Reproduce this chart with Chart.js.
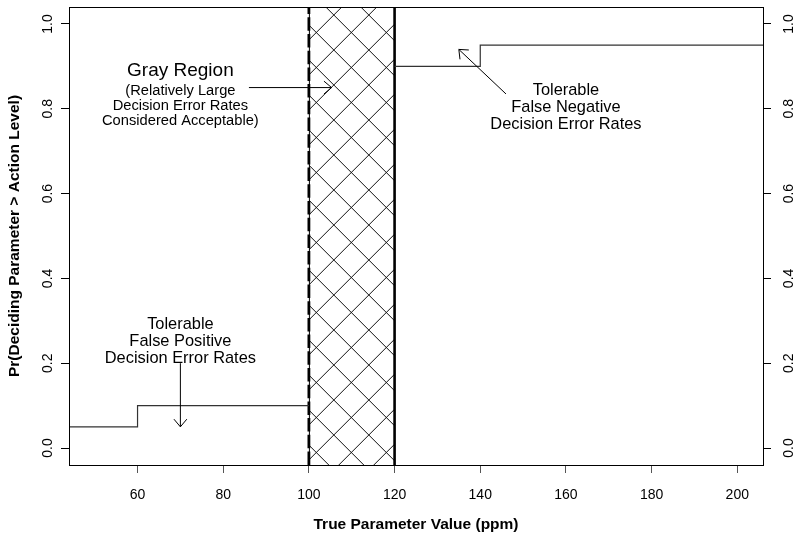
<!DOCTYPE html>
<html><head><meta charset="utf-8">
<script src="https://cdn.jsdelivr.net/npm/chart.js@4.4.1/dist/chart.umd.min.js"></script>
<style>html,body{margin:0;padding:0;background:#fff}#wrap{width:800px;height:538px}</style>
</head><body><div id="wrap"><canvas id="c" width="800" height="538"></canvas></div>
<script>
// ---- data ----
const xTicks = [60, 80, 100, 120, 140, 160, 180, 200];
const yTicks = [0.0, 0.2, 0.4, 0.6, 0.8, 1.0];
const xRange = [44, 206];
const yRange = [-0.04, 1.04];
const fpX = [44, 60, 100];          // tolerable false positive step
const fpY = [0.05, 0.10, 0.10];
const fnX = [120, 140, 206];        // tolerable false negative step
const fnY = [0.90, 0.95, 0.95];
const actionLevel = 100;
const grayUpper = 120;
const xTitle = 'True Parameter Value (ppm)';
const yTitle = 'Pr(Deciding Parameter > Action Level)';
const noteGray = ['Gray Region'];
const noteGraySub = ['(Relatively Large', 'Decision Error Rates', 'Considered Acceptable)'];
const noteFP = ['Tolerable', 'False Positive', 'Decision Error Rates'];
const noteFN = ['Tolerable', 'False Negative', 'Decision Error Rates'];
// annotation anchors (data coords)
const notes = [
  {lines: noteGray, x: 70, y: 0.877, size: 19, gap: 0},
  {lines: noteGraySub, x: 70, y: 0.832, size: 14.7, gap: 15},
  {lines: noteFP, x: 70, y: 0.281, size: 16.4, gap: 17},
  {lines: noteFN, x: 160, y: 0.832, size: 16.4, gap: 16.7}
];
const arrows = [
  {from: [86, 0.85], to: [105.3, 0.85]},
  {from: [70, 0.20], to: [70, 0.05]},
  {from: [146, 0.835], to: [135, 0.94]}
];

const FF = '"Liberation Sans", Arial, Helvetica, sans-serif';
const pts = (xs, ys) => xs.map((x, i) => ({x: x, y: ys[i]}));

const decor = {
  id: 'decor',
  beforeDatasetsDraw(chart) {
    const ctx = chart.ctx, a = chart.chartArea;
    const xs = chart.scales.x;
    const x0 = xs.getPixelForValue(actionLevel), x1 = xs.getPixelForValue(grayUpper);
    const top = a.top, bot = a.bottom, H = 35;
    ctx.save();
    ctx.beginPath(); ctx.rect(x0, top, x1 - x0, bot - top); ctx.clip();
    ctx.strokeStyle = '#111'; ctx.lineWidth = 1;
    const Kb = x0 + bot - 5.1;
    for (let n = Math.floor((x0 + top - Kb) / H) - 1; n <= Math.ceil((x1 + bot - Kb) / H) + 1; n++) {
      const K = Kb + n * H;
      ctx.beginPath(); ctx.moveTo(x0, K - x0); ctx.lineTo(x1, K - x1); ctx.stroke();
    }
    const Mb = bot - x0 - 19.9;
    for (let n = Math.floor((top - x1 - Mb) / H) - 1; n <= Math.ceil((bot - x0 - Mb) / H) + 1; n++) {
      const M = Mb + n * H;
      ctx.beginPath(); ctx.moveTo(x0, M + x0); ctx.lineTo(x1, M + x1); ctx.stroke();
    }
    ctx.restore();
    ctx.save();
    ctx.strokeStyle = '#000'; ctx.lineWidth = 1;
    ctx.beginPath(); ctx.moveTo(x0 + 0.5, top); ctx.lineTo(x0 + 0.5, bot); ctx.stroke();
    ctx.restore();
  },
  afterDraw(chart) {
    const ctx = chart.ctx, a = chart.chartArea;
    const xs = chart.scales.x, ys = chart.scales.y;
    ctx.save();
    // box
    ctx.strokeStyle = '#000'; ctx.lineWidth = 1;
    ctx.strokeRect(Math.round(a.left) + 0.5, Math.round(a.top) + 0.5, Math.round(a.right - a.left), Math.round(a.bottom - a.top));
    // y tick labels (rotated, both sides)
    ctx.fillStyle = '#000';
    ctx.font = '14px ' + FF;
    ctx.textAlign = 'center'; ctx.textBaseline = 'alphabetic';
    yTicks.forEach(v => {
      const py = ys.getPixelForValue(v);
      [a.left - 17.5, a.right + 30].forEach(bx => {
        ctx.save(); ctx.translate(bx, py); ctx.rotate(-Math.PI / 2);
        ctx.fillText(v.toFixed(1), 0, 0); ctx.restore();
      });
    });
    // annotations
    notes.forEach(nt => {
      ctx.font = nt.size + 'px ' + FF;
      const px = xs.getPixelForValue(nt.x), py = ys.getPixelForValue(nt.y);
      nt.lines.forEach((t, i) => ctx.fillText(t, px, py + i * nt.gap));
    });
    // arrows
    ctx.strokeStyle = '#000'; ctx.lineWidth = 1;
    arrows.forEach(ar => {
      const fx = xs.getPixelForValue(ar.from[0]), fy = ys.getPixelForValue(ar.from[1]);
      const tx = xs.getPixelForValue(ar.to[0]), ty = ys.getPixelForValue(ar.to[1]);
      const th = Math.atan2(fy - ty, fx - tx), L = 10, ang = 40 * Math.PI / 180;
      ctx.beginPath(); ctx.moveTo(fx, fy); ctx.lineTo(tx, ty); ctx.stroke();
      ctx.beginPath();
      ctx.moveTo(tx + L * Math.cos(th + ang), ty + L * Math.sin(th + ang));
      ctx.lineTo(tx, ty);
      ctx.lineTo(tx + L * Math.cos(th - ang), ty + L * Math.sin(th - ang));
      ctx.stroke();
    });
    ctx.restore();
  }
};

const setTicks = arr => s => { s.ticks = arr.map(v => ({value: v})); };

new Chart(document.getElementById('c'), {
  type: 'scatter',
  data: {
    datasets: [
      {data: pts(fpX, fpY), showLine: true, stepped: 'before', borderColor: '#333', borderWidth: 1.2, pointRadius: 0},
      {data: pts(fnX, fnY), showLine: true, stepped: 'before', borderColor: '#333', borderWidth: 1.2, pointRadius: 0},
      {data: pts([actionLevel, actionLevel], yRange), showLine: true, borderColor: '#000', borderWidth: 2.8, borderDash: [13.5, 3.2], pointRadius: 0},
      {data: pts([grayUpper, grayUpper], yRange), showLine: true, borderColor: '#000', borderWidth: 2.6, pointRadius: 0}
    ]
  },
  options: {
    responsive: false, animation: false, devicePixelRatio: 1,
    layout: {padding: {top: 7, left: 0, right: 0, bottom: 0}},
    plugins: {legend: {display: false}, tooltip: {enabled: false}},
    scales: {
      x: {
        type: 'linear', position: 'bottom', min: xRange[0], max: xRange[1],
        afterBuildTicks: setTicks(xTicks),
        afterFit: s => { s.height = 73; },
        ticks: {font: {size: 14, family: FF}, color: '#000', padding: 14, maxRotation: 0, autoSkip: false, callback: v => String(v)},
        grid: {drawOnChartArea: false, drawTicks: true, tickLength: 8, tickColor: '#555', color: '#555'},
        border: {display: true, color: '#000', width: 1},
        title: {display: true, text: xTitle, color: '#000', font: {size: 15.5, weight: 'bold', family: FF}, padding: {top: 0, bottom: 4}}
      },
      y: {
        type: 'linear', position: 'left', min: yRange[0], max: yRange[1],
        afterBuildTicks: setTicks(yTicks),
        afterFit: s => { s.width = 69; },
        ticks: {display: false},
        grid: {drawOnChartArea: false, drawTicks: true, tickLength: 8, tickColor: '#000', color: '#000'},
        border: {display: true, color: '#000', width: 1},
        title: {display: true, text: yTitle, color: '#000', font: {size: 15.5, weight: 'bold', family: FF}, padding: {top: 5, bottom: 4}}
      },
      y2: {
        type: 'linear', position: 'right', min: yRange[0], max: yRange[1],
        afterBuildTicks: setTicks(yTicks),
        afterFit: s => { s.width = 37; },
        ticks: {display: false},
        grid: {drawOnChartArea: false, drawTicks: true, tickLength: 8, tickColor: '#000', color: '#000'},
        border: {display: true, color: '#000', width: 1}
      }
    }
  },
  plugins: [decor]
});
</script></body></html>
